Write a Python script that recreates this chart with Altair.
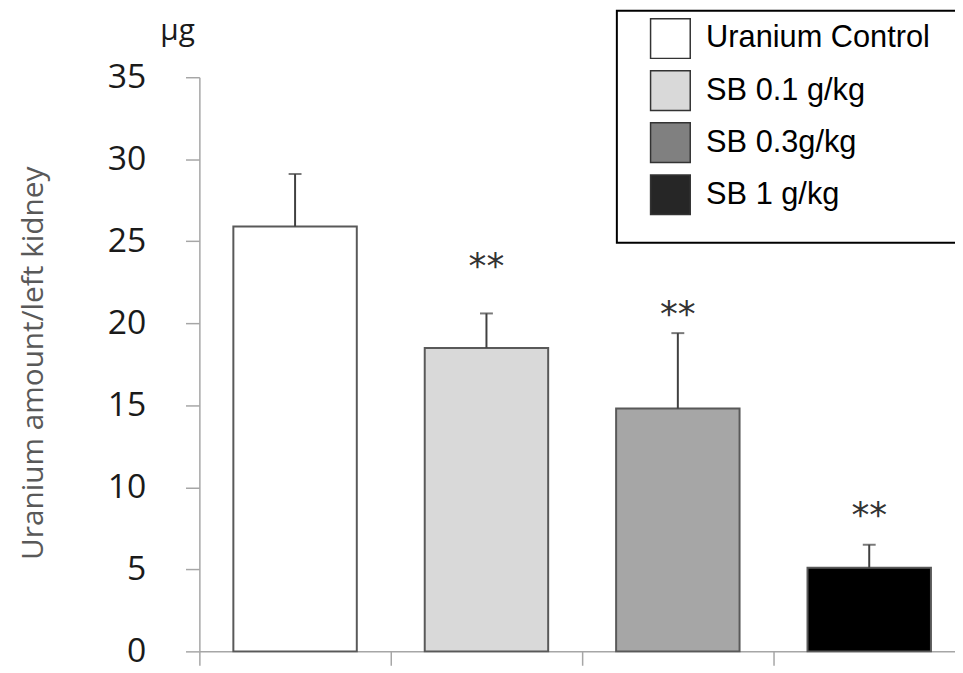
import altair as alt
import pandas as pd

groups = ["Uranium Control", "SB 0.1 g/kg", "SB 0.3g/kg", "SB 1 g/kg"]
means = [25.9, 18.5, 14.8, 5.1]
upper = [29.1, 20.6, 19.4, 6.5]
stars = ["", "**", "**", "**"]
star_y = [0, 23.6, 20.7, 8.4]
bar_colors = ["#ffffff", "#d9d9d9", "#a6a6a6", "#000000"]
legend_colors = ["#ffffff", "#d9d9d9", "#808080", "#262626"]
y_ticks = [0, 5, 10, 15, 20, 25, 30, 35]

df = pd.DataFrame({
    "group": groups,
    "legend_group": groups,
    "mean": means,
    "upper": upper,
    "star": stars,
    "star_y": star_y,
})

x_enc = alt.X(
    "group:N",
    sort=groups,
    scale=alt.Scale(rangeMax=772, paddingInner=0, paddingOuter=0),
    axis=alt.Axis(
        title=None, labels=False, bandPosition=0, tickSize=14,
        domainColor="#a6a6a6", tickColor="#a6a6a6", domainWidth=1.5, tickWidth=1.5,
    ),
)
y_enc = alt.Y(
    "mean:Q",
    scale=alt.Scale(domain=[0, 35], nice=False, zero=True),
    axis=alt.Axis(
        values=y_ticks, title="Uranium amount/left kidney", grid=False,
        tickSize=14, labelPadding=40, labelFont="Open Sans", labelFontSize=34,
        labelColor="#1a1a1a", domainColor="#a6a6a6", tickColor="#a6a6a6",
        domainWidth=1.5, tickWidth=1.5,
        titleFont="Open Sans", titleFontSize=30, titleFontWeight="normal",
        titleColor="#595959", titleX=-152, titleY=288, titleAngle=-90,
        titleAlign="center", titleBaseline="bottom",
    ),
)

base = alt.Chart(df)

bars = base.mark_bar(stroke="#595959", strokeWidth=2, width={"band": 0.645}).encode(
    x=x_enc,
    y=y_enc,
    fill=alt.Fill("group:N", sort=groups,
                  scale=alt.Scale(domain=groups, range=bar_colors), legend=None),
)

err = base.mark_rule(color="#404040", strokeWidth=2).encode(
    x=alt.X("group:N", sort=groups),
    y=alt.Y("mean:Q"),
    y2="upper:Q",
)

caps = base.mark_tick(color="#404040", thickness=2, size=13).encode(
    x=alt.X("group:N", sort=groups),
    y=alt.Y("upper:Q"),
)

star_text = base.mark_text(font="DejaVu Sans", fontSize=36, color="#333333",
                           baseline="middle", align="center", dy=3).encode(
    x=alt.X("group:N", sort=groups),
    y=alt.Y("star_y:Q"),
    text="star:N",
)

legend_layer = base.mark_square(opacity=0).encode(
    x=alt.X("group:N", sort=groups),
    y=alt.Y("mean:Q"),
    fill=alt.Fill(
        "legend_group:N", sort=groups,
        scale=alt.Scale(domain=groups, range=legend_colors),
        legend=alt.Legend(
            title=None, orient="none", legendX=454, legendY=-60,
            symbolType="square", symbolSize=1600, symbolOpacity=1,
            symbolStrokeColor="#333333", symbolStrokeWidth=1.5,
            labelFont="Liberation Sans", labelFontSize=31, labelColor="#000000",
            labelOffset=15, rowPadding=6.5, padding=0, labelLimit=400,
        ),
    ),
)

frame = alt.Chart(alt.Data(values=[{}])).mark_rect(
    filled=False, stroke="#000000", strokeWidth=2
).encode(
    x=alt.value(421), x2=alt.value(790), y=alt.value(-67), y2=alt.value(167)
)

unit = alt.Chart(alt.Data(values=[{"u": "\u03bcg"}])).mark_text(
    font="Open Sans", fontSize=30, color="#1a1a1a", align="center", baseline="middle"
).encode(x=alt.value(-22), y=alt.value(-47), text="u:N")

chart = alt.layer(bars, err, caps, star_text, legend_layer, frame, unit).resolve_scale(
    fill="independent"
).properties(
    width=762, height=579,
    autosize=alt.AutoSizeParams(type="none"),
    padding={"left": 193, "top": 67, "right": 0, "bottom": 18},
).configure_view(stroke=None)

chart.save("out.html", embed_options={"renderer": "svg", "actions": False})
